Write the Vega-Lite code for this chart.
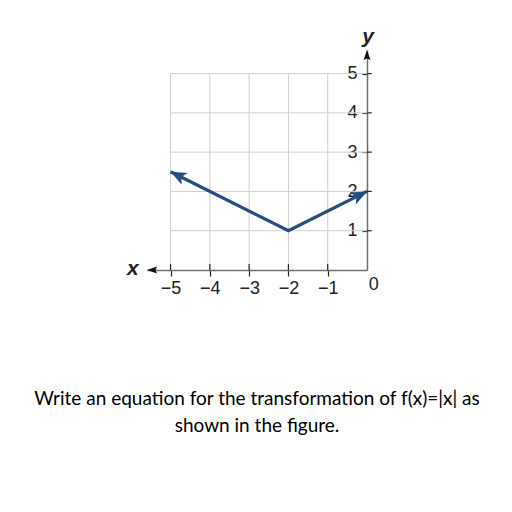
{
  "$schema": "https://vega.github.io/schema/vega-lite/v6.json",
  "autosize": "none",
  "width": 220,
  "height": 220,
  "padding": {"left": 147, "top": 50, "right": 145, "bottom": 242},
  "background": "white",
  "config": {"view": {"stroke": null}},
  "title": {
    "text": ["Write an equation for the transformation of f(x)=|x| as", "shown in the figure."],
    "orient": "bottom",
    "anchor": "middle",
    "font": "Lato",
    "fontSize": 19,
    "fontWeight": "normal",
    "color": "#000000",
    "lineHeight": 27,
    "offset": 93
  },
  "datasets": {
    "vgrid": [{"gx": -5}, {"gx": -4}, {"gx": -3}, {"gx": -2}, {"gx": -1}],
    "hgrid": [{"gy": 1}, {"gy": 2}, {"gy": 3}, {"gy": 4}, {"gy": 5}],
    "curve": [{"x": -5, "y": 2.5}, {"x": -2, "y": 1}, {"x": 0, "y": 2}]
  },
  "layer": [
    {
      "data": {"name": "vgrid"},
      "mark": {"type": "rule", "color": "#cfcfcf", "strokeWidth": 1},
      "encoding": {
        "x": {"field": "gx", "type": "quantitative", "scale": {"domain": [-5.6, 0], "nice": false, "zero": false},
          "axis": {"orient": "bottom", "values": [-5, -4, -3, -2, -1], "grid": false, "title": null,
            "domainColor": "#6e6e6e", "domainWidth": 1.5, "tickColor": "#222222", "tickSize": 6, "tickWidth": 1.2,
            "labelFont": "Arial", "labelFontSize": 18, "labelColor": "#222222", "labelPadding": 3,
            "labelExpr": "'−' + abs(datum.value)"}},
        "y": {"datum": 0, "type": "quantitative", "scale": {"domain": [0, 5.6], "nice": false},
          "axis": {"orient": "left", "offset": -220, "values": [1, 2, 3, 4, 5], "grid": false, "title": null,
            "domainColor": "#6e6e6e", "domainWidth": 1.5, "tickColor": "#222222", "tickSize": 5, "tickWidth": 1.2,
            "labelFont": "Arial", "labelFontSize": 18, "labelColor": "#222222", "labelPadding": 5}},
        "y2": {"datum": 5}
      }
    },
    {
      "data": {"name": "hgrid"},
      "mark": {"type": "rule", "color": "#cfcfcf", "strokeWidth": 1},
      "encoding": {
        "y": {"field": "gy", "type": "quantitative"},
        "x": {"datum": -5},
        "x2": {"datum": 0}
      }
    },
    {
      "data": {"name": "vgrid"},
      "mark": {"type": "rule", "color": "#222222", "strokeWidth": 1.2},
      "encoding": {
        "x": {"field": "gx", "type": "quantitative"},
        "y": {"datum": 0},
        "y2": {"datum": 0.15}
      }
    },
    {
      "data": {"name": "hgrid"},
      "mark": {"type": "rule", "color": "#222222", "strokeWidth": 1.2},
      "encoding": {
        "y": {"field": "gy", "type": "quantitative"},
        "x": {"datum": 0},
        "x2": {"datum": 0.12}
      }
    },
    {
      "data": {"name": "curve"},
      "mark": {"type": "line", "color": "#234e7d", "strokeWidth": 3.2},
      "encoding": {
        "x": {"field": "x", "type": "quantitative"},
        "y": {"field": "y", "type": "quantitative"}
      }
    },
    {
      "data": {"values": [{}]},
      "mark": {"type": "point", "filled": true, "opacity": 1, "color": "#234e7d", "shape": "M0,0L0.42,1L0,0.75L-0.42,1Z", "size": 1000, "angle": 296.6},
      "encoding": {"x": {"datum": -5}, "y": {"datum": 2.5}}
    },
    {
      "data": {"values": [{}]},
      "mark": {"type": "point", "filled": true, "opacity": 1, "color": "#234e7d", "shape": "M0,0L0.42,1L0,0.75L-0.42,1Z", "size": 1000, "angle": 63.4},
      "encoding": {"x": {"datum": 0}, "y": {"datum": 2}}
    },
    {
      "data": {"values": [{}]},
      "mark": {"type": "point", "filled": true, "opacity": 1, "color": "#111111", "shape": "M0,0L0.35,1L0,0.85L-0.35,1Z", "size": 400, "angle": 0},
      "encoding": {"x": {"datum": 0}, "y": {"datum": 5.6}}
    },
    {
      "data": {"values": [{}]},
      "mark": {"type": "point", "filled": true, "opacity": 1, "color": "#111111", "shape": "M0,0L0.35,1L0,0.85L-0.35,1Z", "size": 400, "angle": 270},
      "encoding": {"x": {"datum": -5.6}, "y": {"datum": 0}}
    },
    {
      "data": {"values": [{}]},
      "mark": {"type": "text", "text": "x", "font": "Arial", "fontSize": 21, "fontStyle": "italic", "fontWeight": "bold", "color": "#222222", "align": "center", "baseline": "middle"},
      "encoding": {"x": {"datum": -5.96}, "y": {"datum": 0.03}}
    },
    {
      "data": {"values": [{}]},
      "mark": {"type": "text", "text": "y", "font": "Arial", "fontSize": 21, "fontStyle": "italic", "fontWeight": "bold", "color": "#222222", "align": "center", "baseline": "middle"},
      "encoding": {"x": {"datum": 0.03}, "y": {"datum": 5.94}}
    },
    {
      "data": {"values": [{}]},
      "mark": {"type": "text", "text": "0", "font": "Arial", "fontSize": 18, "color": "#222222", "align": "center", "baseline": "middle"},
      "encoding": {"x": {"datum": 0.17}, "y": {"datum": -0.38}}
    }
  ]
}
